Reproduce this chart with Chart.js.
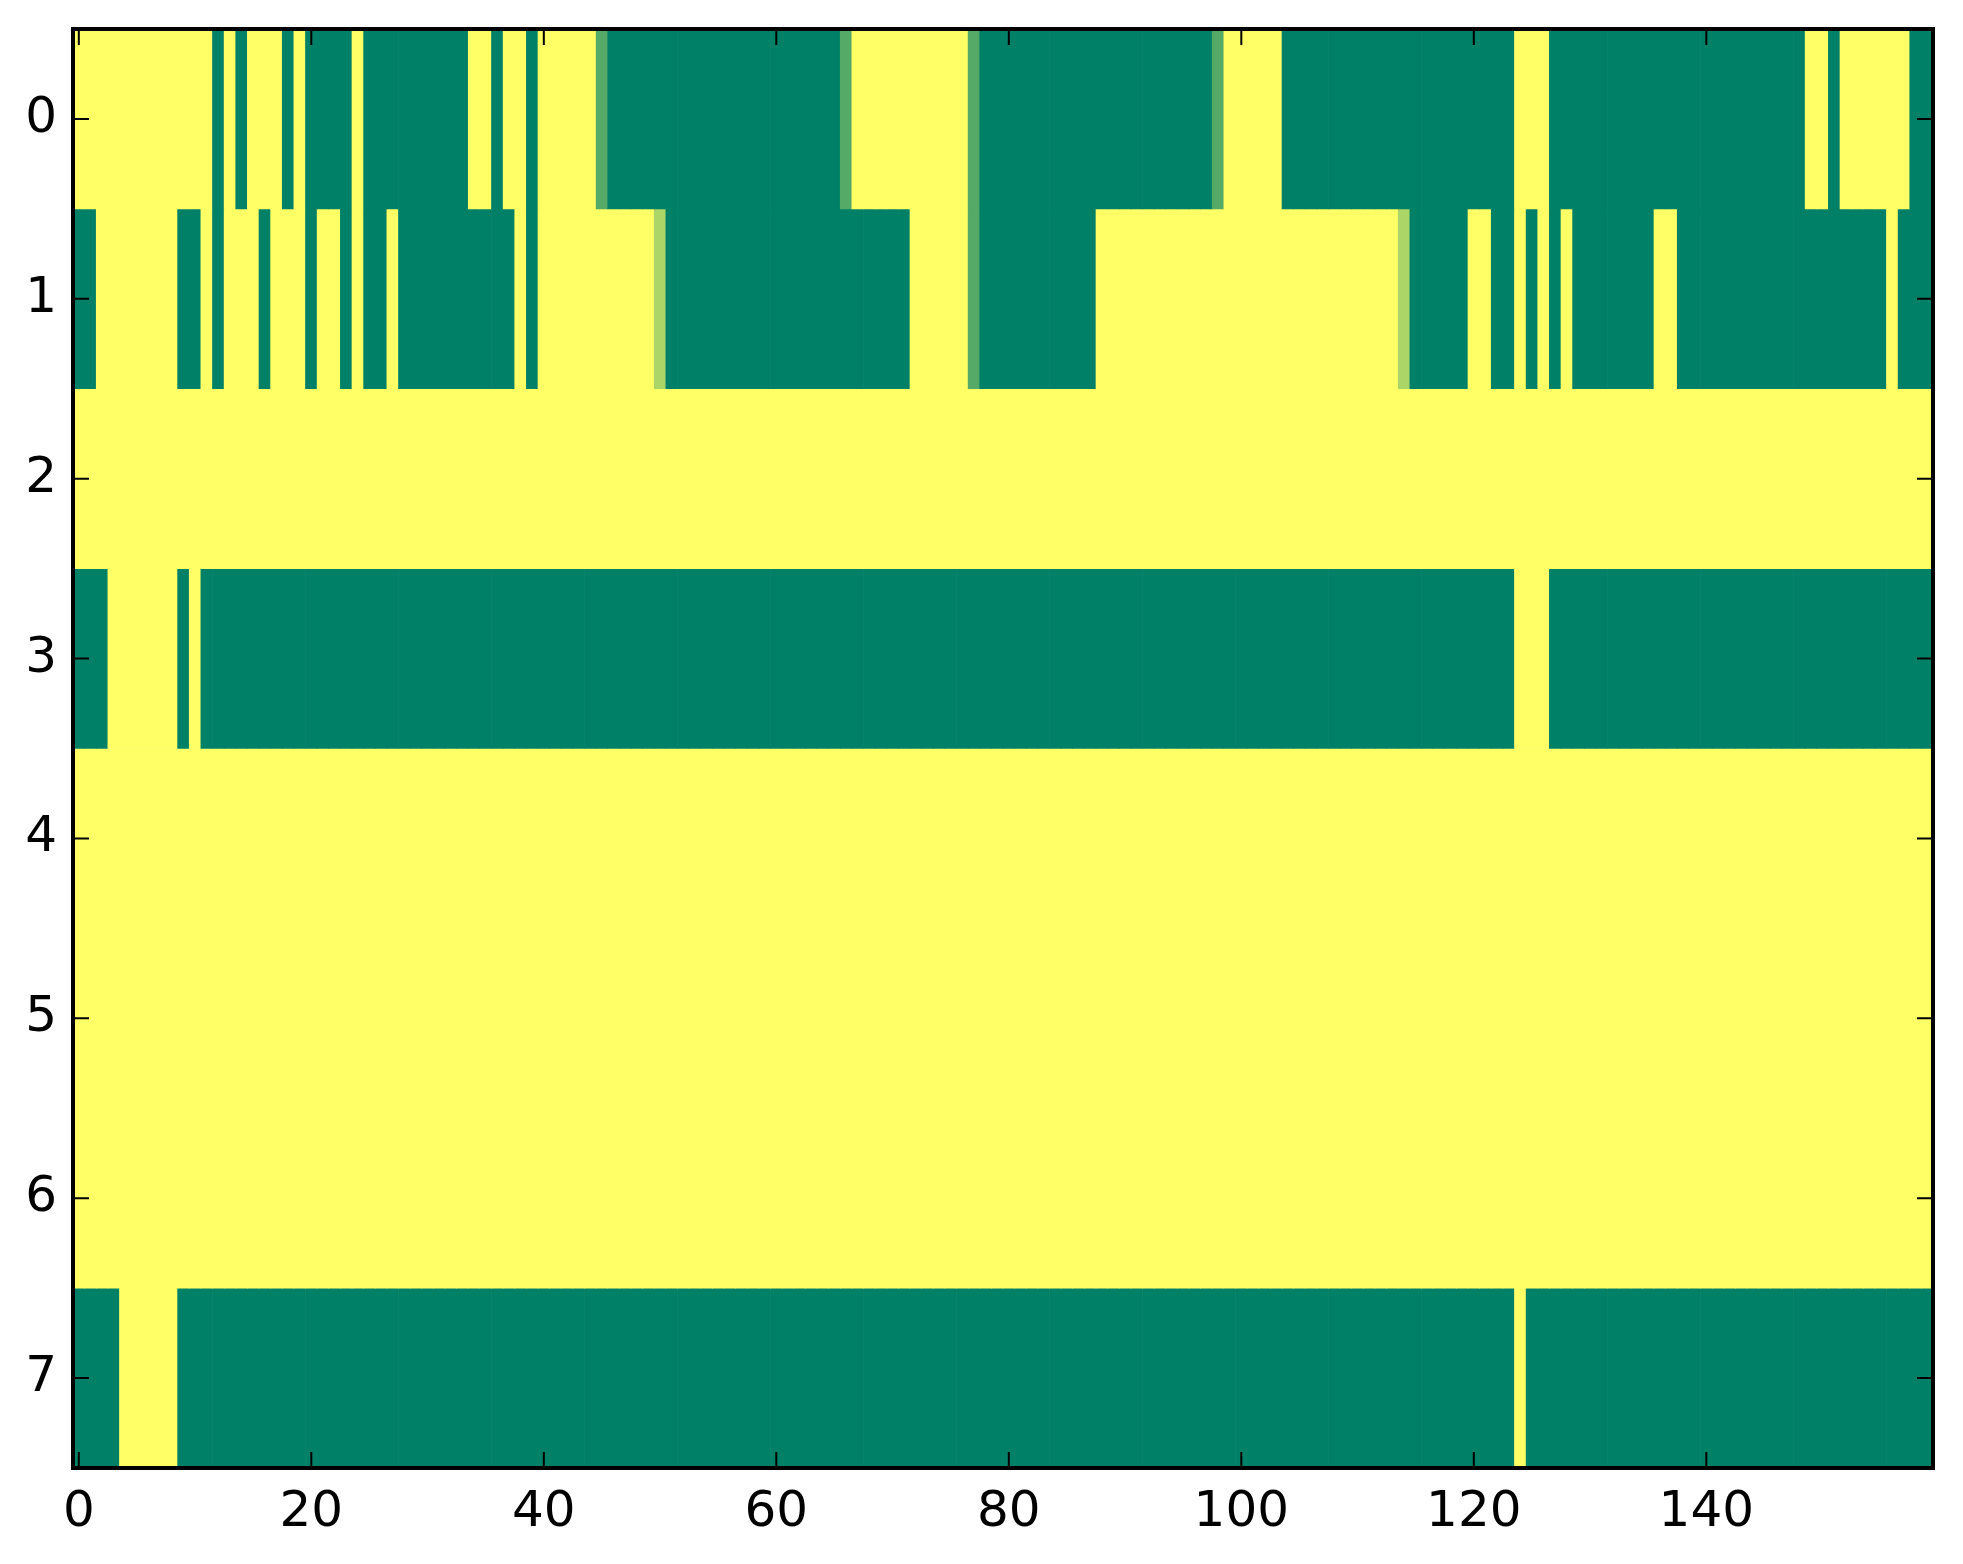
<!DOCTYPE html>
<html>
<head>
<meta charset="utf-8">
<script src="https://cdn.jsdelivr.net/npm/chart.js@4.4.0/dist/chart.umd.min.js"></script>
<style>
    html, body { margin: 0; padding: 0; background: #fff; }
    #wrap { width: 1963px; height: 1564px; position: relative; }
</style>
</head>
<body>
<div id="wrap"><canvas id="heat"></canvas></div>
<script>
// ========================================
// DATA (one array per image row, 160 columns each)
// ========================================

const rowLabels = ['0', '1', '2', '3', '4', '5', '6', '7'];
const xTickValues = [0, 20, 40, 60, 80, 100, 120, 140];

const row0 = [
    1,1,1,1,1,1,1,1,1,1,1,1,0,1,0,1,1,1,0,1,
    0,0,0,0,1,0,0,0,0,0,0,0,0,0,1,1,0,1,1,0,
    1,1,1,1,1,0.33,0,0,0,0,0,0,0,0,0,0,0,0,0,0,
    0,0,0,0,0,0,0.33,1,1,1,1,1,1,1,1,1,1,0.33,0,0,
    0,0,0,0,0,0,0,0,0,0,0,0,0,0,0,0,0,0,0.33,1,
    1,1,1,1,0,0,0,0,0,0,0,0,0,0,0,0,0,0,0,0,
    0,0,0,0,1,1,1,0,0,0,0,0,0,0,0,0,0,0,0,0,
    0,0,0,0,0,0,0,0,0,1,1,0,1,1,1,1,1,1,0,0
];
const row1 = [
    0,0,1,1,1,1,1,1,1,0,0,1,0,1,1,1,0,1,1,1,
    0,1,1,0,1,0,0,1,0,0,0,0,0,0,0,0,0,0,1,0,
    1,1,1,1,1,1,1,1,1,1,0.67,0,0,0,0,0,0,0,0,0,
    0,0,0,0,0,0,0,0,0,0,0,0,1,1,1,1,1,0.33,0,0,
    0,0,0,0,0,0,0,0,1,1,1,1,1,1,1,1,1,1,1,1,
    1,1,1,1,1,1,1,1,1,1,1,1,1,1,0.67,0,0,0,0,0,
    1,1,0,0,1,0,1,0,1,0,0,0,0,0,0,0,1,1,0,0,
    0,0,0,0,0,0,0,0,0,0,0,0,0,0,0,0,1,0,0,0
];
const row2 = [
    1,1,1,1,1,1,1,1,1,1,1,1,1,1,1,1,1,1,1,1,
    1,1,1,1,1,1,1,1,1,1,1,1,1,1,1,1,1,1,1,1,
    1,1,1,1,1,1,1,1,1,1,1,1,1,1,1,1,1,1,1,1,
    1,1,1,1,1,1,1,1,1,1,1,1,1,1,1,1,1,1,1,1,
    1,1,1,1,1,1,1,1,1,1,1,1,1,1,1,1,1,1,1,1,
    1,1,1,1,1,1,1,1,1,1,1,1,1,1,1,1,1,1,1,1,
    1,1,1,1,1,1,1,1,1,1,1,1,1,1,1,1,1,1,1,1,
    1,1,1,1,1,1,1,1,1,1,1,1,1,1,1,1,1,1,1,1
];
const row3 = [
    0,0,0,1,1,1,1,1,1,0,1,0,0,0,0,0,0,0,0,0,
    0,0,0,0,0,0,0,0,0,0,0,0,0,0,0,0,0,0,0,0,
    0,0,0,0,0,0,0,0,0,0,0,0,0,0,0,0,0,0,0,0,
    0,0,0,0,0,0,0,0,0,0,0,0,0,0,0,0,0,0,0,0,
    0,0,0,0,0,0,0,0,0,0,0,0,0,0,0,0,0,0,0,0,
    0,0,0,0,0,0,0,0,0,0,0,0,0,0,0,0,0,0,0,0,
    0,0,0,0,1,1,1,0,0,0,0,0,0,0,0,0,0,0,0,0,
    0,0,0,0,0,0,0,0,0,0,0,0,0,0,0,0,0,0,0,0
];
const row4 = [
    1,1,1,1,1,1,1,1,1,1,1,1,1,1,1,1,1,1,1,1,
    1,1,1,1,1,1,1,1,1,1,1,1,1,1,1,1,1,1,1,1,
    1,1,1,1,1,1,1,1,1,1,1,1,1,1,1,1,1,1,1,1,
    1,1,1,1,1,1,1,1,1,1,1,1,1,1,1,1,1,1,1,1,
    1,1,1,1,1,1,1,1,1,1,1,1,1,1,1,1,1,1,1,1,
    1,1,1,1,1,1,1,1,1,1,1,1,1,1,1,1,1,1,1,1,
    1,1,1,1,1,1,1,1,1,1,1,1,1,1,1,1,1,1,1,1,
    1,1,1,1,1,1,1,1,1,1,1,1,1,1,1,1,1,1,1,1
];
const row5 = [
    1,1,1,1,1,1,1,1,1,1,1,1,1,1,1,1,1,1,1,1,
    1,1,1,1,1,1,1,1,1,1,1,1,1,1,1,1,1,1,1,1,
    1,1,1,1,1,1,1,1,1,1,1,1,1,1,1,1,1,1,1,1,
    1,1,1,1,1,1,1,1,1,1,1,1,1,1,1,1,1,1,1,1,
    1,1,1,1,1,1,1,1,1,1,1,1,1,1,1,1,1,1,1,1,
    1,1,1,1,1,1,1,1,1,1,1,1,1,1,1,1,1,1,1,1,
    1,1,1,1,1,1,1,1,1,1,1,1,1,1,1,1,1,1,1,1,
    1,1,1,1,1,1,1,1,1,1,1,1,1,1,1,1,1,1,1,1
];
const row6 = [
    1,1,1,1,1,1,1,1,1,1,1,1,1,1,1,1,1,1,1,1,
    1,1,1,1,1,1,1,1,1,1,1,1,1,1,1,1,1,1,1,1,
    1,1,1,1,1,1,1,1,1,1,1,1,1,1,1,1,1,1,1,1,
    1,1,1,1,1,1,1,1,1,1,1,1,1,1,1,1,1,1,1,1,
    1,1,1,1,1,1,1,1,1,1,1,1,1,1,1,1,1,1,1,1,
    1,1,1,1,1,1,1,1,1,1,1,1,1,1,1,1,1,1,1,1,
    1,1,1,1,1,1,1,1,1,1,1,1,1,1,1,1,1,1,1,1,
    1,1,1,1,1,1,1,1,1,1,1,1,1,1,1,1,1,1,1,1
];
const row7 = [
    0,0,0,0,1,1,1,1,1,0,0,0,0,0,0,0,0,0,0,0,
    0,0,0,0,0,0,0,0,0,0,0,0,0,0,0,0,0,0,0,0,
    0,0,0,0,0,0,0,0,0,0,0,0,0,0,0,0,0,0,0,0,
    0,0,0,0,0,0,0,0,0,0,0,0,0,0,0,0,0,0,0,0,
    0,0,0,0,0,0,0,0,0,0,0,0,0,0,0,0,0,0,0,0,
    0,0,0,0,0,0,0,0,0,0,0,0,0,0,0,0,0,0,0,0,
    0,0,0,0,1,0,0,0,0,0,0,0,0,0,0,0,0,0,0,0,
    0,0,0,0,0,0,0,0,0,0,0,0,0,0,0,0,0,0,0,0
];

const rows = [row0, row1, row2, row3, row4, row5, row6, row7];

// ========================================
// COLOUR MAP (matplotlib "summer")
// ========================================

function summer(v) {
    const r = Math.round(255 * v);
    const g = Math.round(255 * (0.5 + 0.5 * v));
    return `rgb(${r}, ${g}, 102)`;
}

// ========================================
// FRAME + INWARD TICKS
// ========================================

const frameAndTicks = {
    id: 'frameAndTicks',
    afterDraw(chart) {
        const { ctx, chartArea: a, scales: { x, y } } = chart;
        const len = 16;
        ctx.save();
        ctx.strokeStyle = '#000';
        ctx.lineWidth = 2;
        ctx.beginPath();
        x.ticks.forEach(t => {
            const px = x.getPixelForValue(t.value);
            ctx.moveTo(px, a.bottom); ctx.lineTo(px, a.bottom - len);
            ctx.moveTo(px, a.top); ctx.lineTo(px, a.top + len);
        });
        y.ticks.forEach((t, i) => {
            const py = y.getPixelForTick(i);
            ctx.moveTo(a.left, py); ctx.lineTo(a.left + len, py);
            ctx.moveTo(a.right, py); ctx.lineTo(a.right - len, py);
        });
        ctx.stroke();
        ctx.lineWidth = 4;
        ctx.strokeRect(a.left, a.top, a.right - a.left, a.bottom - a.top);
        ctx.restore();
    }
};

// ========================================
// CHART
// ========================================

const datasets = rows.map((vals, r) => ({
    data: vals.map((v, i) => ({ x: [i - 0.5, i + 0.5], y: rowLabels[r] })),
    backgroundColor: vals.map(v => summer(v)),
    borderWidth: 0,
    grouped: false,
    barPercentage: 1,
    categoryPercentage: 1
}));

const tickFont = { family: 'DejaVu Sans', size: 50 };

new Chart(document.getElementById('heat'), {
    type: 'bar',
    data: { labels: rowLabels, datasets: datasets },
    options: {
        indexAxis: 'y',
        responsive: true,
        maintainAspectRatio: false,
        animation: false,
        layout: { padding: { top: 29, right: 30, left: 0, bottom: 0 } },
        plugins: {
            legend: { display: false },
            tooltip: { enabled: false }
        },
        scales: {
            x: {
                type: 'linear',
                min: -0.5,
                max: 159.5,
                grid: { display: false, drawTicks: false },
                border: { display: false },
                ticks: { color: '#000', font: tickFont, padding: 15, maxRotation: 0 },
                afterBuildTicks: axis => { axis.ticks = xTickValues.map(v => ({ value: v })); },
                afterFit: axis => {
                    axis.height = 96;
                    axis.paddingLeft = 0;
                    axis.paddingRight = 0;
                }
            },
            y: {
                type: 'category',
                grid: { display: false, drawTicks: false },
                border: { display: false },
                ticks: { color: '#000', font: tickFont, padding: 16 },
                afterFit: axis => {
                    axis.width = 73;
                    axis.paddingTop = 0;
                    axis.paddingBottom = 0;
                }
            }
        }
    },
    plugins: [frameAndTicks]
});
</script>
</body>
</html>
